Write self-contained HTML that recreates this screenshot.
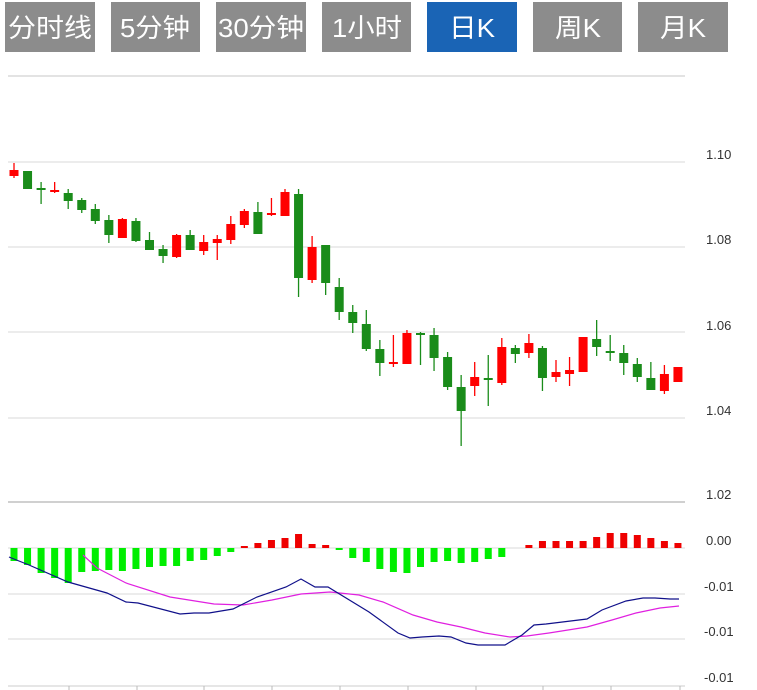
<!DOCTYPE html>
<html><head><meta charset="utf-8"><style>
body{margin:0;background:#fff;width:757px;height:690px;overflow:hidden}
svg{display:block}
.b{font-family:"Liberation Sans","Noto Sans CJK SC",sans-serif;font-size:26px;fill:#fff}
.l{font-family:"Liberation Sans",sans-serif;font-size:13px;fill:#333}
</style></head><body>
<svg id="s" width="757" height="690" xmlns="http://www.w3.org/2000/svg">
<rect x="5" y="2" width="90" height="50" fill="#8c8c8c"/>
<rect x="111" y="2" width="89" height="50" fill="#8c8c8c"/>
<rect x="216" y="2" width="90" height="50" fill="#8c8c8c"/>
<rect x="322" y="2" width="89" height="50" fill="#8c8c8c"/>
<rect x="427" y="2" width="90" height="50" fill="#1a64b5"/>
<rect x="533" y="2" width="89" height="50" fill="#8c8c8c"/>
<rect x="638" y="2" width="90" height="50" fill="#8c8c8c"/>
<text class="b" x="8" y="37" textLength="84" lengthAdjust="spacingAndGlyphs">分时线</text>
<text class="b" x="120" y="37" textLength="70" lengthAdjust="spacingAndGlyphs">5分钟</text>
<text class="b" x="218" y="37" textLength="86" lengthAdjust="spacingAndGlyphs">30分钟</text>
<text class="b" x="332" y="37" textLength="70" lengthAdjust="spacingAndGlyphs">1小时</text>
<text class="b" x="449" y="37" textLength="46" lengthAdjust="spacingAndGlyphs">日K</text>
<text class="b" x="555" y="37" textLength="46" lengthAdjust="spacingAndGlyphs">周K</text>
<text class="b" x="660" y="37" textLength="46" lengthAdjust="spacingAndGlyphs">月K</text>
<line x1="8" y1="76" x2="685" y2="76" stroke="#e3e3e3" stroke-width="2"/>
<g stroke="#d8d8d8" stroke-width="1">
<line x1="8" y1="162" x2="685" y2="162"/><line x1="8" y1="247" x2="685" y2="247"/>
<line x1="8" y1="332" x2="685" y2="332"/><line x1="8" y1="418" x2="685" y2="418"/>
<line x1="8" y1="594" x2="685" y2="594"/><line x1="8" y1="639" x2="685" y2="639"/>
<line x1="8" y1="548" x2="685" y2="548"/>
</g>
<line x1="8" y1="502" x2="685" y2="502" stroke="#d0d0d0" stroke-width="2"/>
<line x1="8" y1="686" x2="685" y2="686" stroke="#ccc" stroke-width="1"/>
<g stroke="#bbb"><line x1="69" y1="686" x2="69" y2="690"/><line x1="137" y1="686" x2="137" y2="690"/><line x1="204" y1="686" x2="204" y2="690"/><line x1="272" y1="686" x2="272" y2="690"/><line x1="340" y1="686" x2="340" y2="690"/><line x1="408" y1="686" x2="408" y2="690"/><line x1="476" y1="686" x2="476" y2="690"/><line x1="543" y1="686" x2="543" y2="690"/><line x1="611" y1="686" x2="611" y2="690"/><line x1="680" y1="686" x2="680" y2="690"/></g>
<text class="l" x="706" y="159">1.10</text>
<text class="l" x="706" y="244">1.08</text>
<text class="l" x="706" y="330">1.06</text>
<text class="l" x="706" y="415">1.04</text>
<text class="l" x="706" y="499">1.02</text>
<text class="l" x="706" y="545">0.00</text>
<text class="l" x="704" y="591">-0.01</text>
<text class="l" x="704" y="636">-0.01</text>
<text class="l" x="704" y="682">-0.01</text>
<g id="c"></g>
<polyline fill="none" stroke="#e020e0" stroke-width="1.2" points="83,555 97,568 126,583 170,597 214,604 243,605 272,600 301,594 330,592 359,595 383,602 413,615 437,622 461,627 485,633 510,637 527,636 549,633 587,627 612,620 636,613 660,608 679,606"/>
<polyline fill="none" stroke="#10108a" stroke-width="1.2" points="9,557 29,565 68,582 107,593 126,602 138,603 180,614 194,613 209,613 233,609 257,597 286,587 301,579 315,587 328,587 369,612 398,633 410,638 422,637 439,636 451,637 466,643 478,645 505,645 522,635 534,625 546,624 587,619 602,610 626,601 643,598 655,598 670,599 679,599"/>
</svg>
<script>
var C=[[170,176,163,178,1],[171,189,171,189,0],[188,190,182,204,0],[190,192,182,193,1],[193,201,189,209,0],[200,210,198,213,0],[209,221,204,224,0],[220,235,215,243,0],[219,238,218,238,1],[221,241,218,242,0],[240,250,232,250,0],[249,256,245,263,0],[235,257,234,258,1],[235,250,230,250,0],[242,251,235,255,1],[239,243,235,260,1],[224,240,216,244,1],[211,225,209,228,1],[212,234,202,234,0],[213,215,198,216,1],[192,216,189,216,1],[194,278,189,297,0],[247,280,236,283,1],[245,283,245,295,0],[287,312,278,320,0],[312,323,305,333,0],[324,349,310,351,0],[349,363,340,376,0],[362,364,335,367,1],[333,364,330,364,1],[333,335,332,365,0],[335,358,328,371,0],[357,387,352,390,0],[387,411,375,446,0],[377,386,362,396,1],[378,380,355,406,0],[347,383,338,385,1],[348,354,345,363,0],[343,353,334,358,1],[348,378,346,391,0],[372,377,360,382,1],[370,374,357,386,1],[337,372,337,372,1],[339,347,320,356,0],[351,352,335,361,0],[353,363,345,375,0],[364,377,358,382,0],[378,390,362,390,0],[374,391,365,394,1],[367,382,367,382,1]];
var H=[561,565,573,578,583,572,571,570,571,569,567,566,566,561,560,556,552,546,543,540,538,534,544,545,550,558,562,569,572,573,567,562,561,563,562,559,557,548,545,541,541,541,541,537,533,533,535,538,541,543];
var g=document.getElementById('c'),s='';
for(var i=0;i<50;i++){var x=14+i*13.55,c=C[i],col=c[4]?'#f00':'#1a8c1a';
s+='<line x1="'+x+'" y1="'+c[2]+'" x2="'+x+'" y2="'+c[3]+'" stroke="'+col+'" stroke-width="1.3"/>';
s+='<rect x="'+(x-4.5)+'" y="'+c[0]+'" width="9" height="'+Math.max(2,c[1]-c[0])+'" fill="'+col+'"/>';
var h=H[i];if(i!=37){var hc=h>548?'#00ee00':'#ee0000';var y=Math.min(h,548),hh=Math.abs(h-548)||1;
s+='<rect x="'+(x-3.5)+'" y="'+y+'" width="7" height="'+hh+'" fill="'+hc+'"/>';}}
g.innerHTML=s;
</script>
</body></html>
